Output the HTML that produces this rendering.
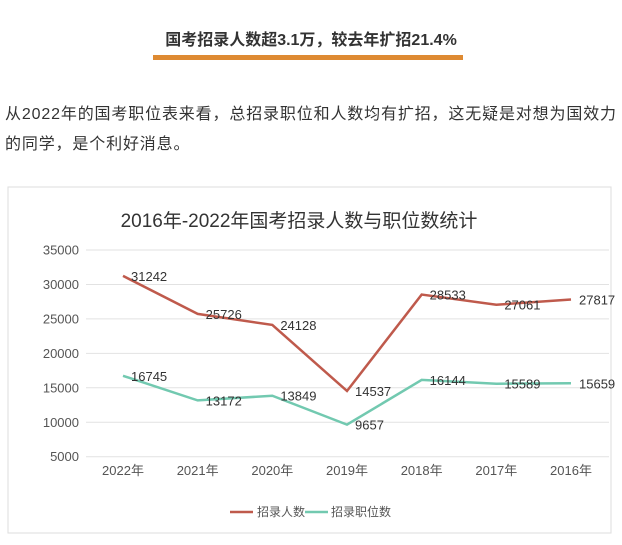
<!DOCTYPE html>
<html><head><meta charset="utf-8"><style>
body{margin:0;width:622px;height:545px;background:#fff;overflow:hidden;font-family:"Liberation Sans","Noto Sans CJK SC",sans-serif;position:relative}
.hd{position:absolute;left:0;width:622px;top:26px;text-align:center;font-size:16px;font-weight:bold;color:#333}
.bar{position:absolute;left:153px;top:55px;width:310px;height:5px;background:#de8a32}
.p{position:absolute;left:5px;top:100px;width:620px;font-size:16px;line-height:30px;color:#333;letter-spacing:0.85px;white-space:nowrap}
svg{position:absolute;left:0;top:0}
</style></head><body>
<div class="hd">国考招录人数超3.1万，较去年扩招21.4%</div>
<div class="bar"></div>
<div class="p">从2022年的国考职位表来看，总招录职位和人数均有扩招，这无疑是对想为国效力<br>的同学，是个利好消息。</div>
<svg id="c" width="622" height="545"></svg>
<script>
const categories=["2022年","2021年","2020年","2019年","2018年","2017年","2016年"];
const hires=[31242,25726,24128,14537,28533,27061,27817];
const positions=[16745,13172,13849,9657,16144,15589,15659];
const yTicks=[5000,10000,15000,20000,25000,30000,35000];
const NS="http://www.w3.org/2000/svg",svg=document.getElementById('c');
function el(t,a,p){const e=document.createElementNS(NS,t);for(const k in a)e.setAttribute(k,a[k]);(p||svg).appendChild(e);return e;}
const x0=123,x1=571,yTop=250,yBot=456.7,vMin=5000,vMax=35000;
const xs=i=>x0+i*(x1-x0)/(categories.length-1);
const ys=v=>yBot-(v-vMin)/(vMax-vMin)*(yBot-yTop);
const box=el('rect',{x:8,y:187,width:603,height:346,fill:'#fff',stroke:'#ddd'});

const tt=el('text',{x:299,y:227,'text-anchor':'middle','font-size':19,fill:'#333'});

tt.textContent='2016年-2022年国考招录人数与职位数统计';
yTicks.forEach(v=>{
 const g=el('line',{x1:86,x2:609,y1:ys(v),y2:ys(v),stroke:'#e2e2e2'});
 
 const t=el('text',{x:79,y:ys(v)+4.5,'text-anchor':'end','font-size':13,fill:'#555'});
 
 t.textContent=v;
});
categories.forEach((c,i)=>{
 const t=el('text',{x:xs(i),y:475,'text-anchor':'middle','font-size':13,fill:'#555'});
 
 t.textContent=c;
});
function series(arr,color,name){
 const l=el('polyline',{points:arr.map((v,i)=>xs(i)+','+ys(v)).join(' '),fill:'none',stroke:color,'stroke-width':2.5});
 
 arr.forEach((v,i)=>{
  const t=el('text',{x:xs(i)+8,y:ys(v)+5,'font-size':13,fill:'#333'});
  
  t.textContent=v;
 });
}
series(hires,'#bf5a4c','hires');
series(positions,'#72c9b0','positions');
const l1=el('line',{x1:230,x2:253,y1:512,y2:512,stroke:'#bf5a4c','stroke-width':2.5});

const t1=el('text',{x:257,y:516,'font-size':12,fill:'#555'});

t1.textContent='招录人数';
const l2=el('line',{x1:305,x2:328,y1:512,y2:512,stroke:'#72c9b0','stroke-width':2.5});

const t2=el('text',{x:331,y:516,'font-size':12,fill:'#555'});

t2.textContent='招录职位数';
</script>
</body></html>
